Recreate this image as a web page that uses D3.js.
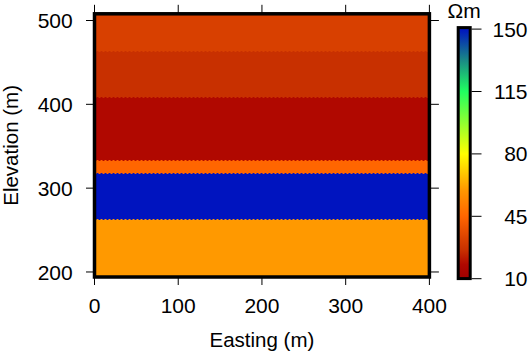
<!DOCTYPE html>
<html>
<head>
<meta charset="utf-8">
<script src="https://cdn.jsdelivr.net/npm/d3@7"></script>
<style>
  body { margin: 0; background: #fff; }
  svg { display: block; font-family: "Liberation Sans", Arial, sans-serif; }
</style>
</head>
<body>
<div id="chart"></div>
<script>
      // layered resistivity model (elevation in m, resistivity in ohm-m)
      var layerTop    = [508, 464, 409, 334, 318, 263];
      var layerBottom = [464, 409, 334, 318, 263, 194];
      var resistivity = [32, 26, 18, 45, 150, 60];

      var xTicks = [0, 100, 200, 300, 400];
      var yTicks = [200, 300, 400, 500];
      var cTicks = [10, 45, 80, 115, 150];

      // colour map stops
      var cStops  = [10, 18, 26, 32, 45, 60, 80, 115, 132, 150];
      var cColors = ["#a00000", "#b00800", "#c83000", "#d84000", "#ff6600",
                     "#ff9900", "#ffff00", "#20ff60", "#1a8c84", "#0014bf"];

      var W = 529, H = 354;

      var svg = d3.select("#chart").append("svg")
          .attr("width", W)
          .attr("height", H);

      ////// scales //////
      var xScale = d3.scaleLinear().domain([0, 400]).range([94.5, 429.4]);
      var yScale = d3.scaleLinear().domain([194, 508]).range([277, 13.8]);
      var colour = d3.scaleLinear().domain(cStops).range(cColors);
      var cScale = d3.scaleLinear().domain([10, 150]).range([278.7, 29.1]);

      // layers
      svg.append("g")
          .attr("shape-rendering", "crispEdges")
          .selectAll("rect")
          .data(resistivity)
          .enter()
          .append("rect")
          .attr("x", xScale(0))
          .attr("width", xScale(400) - xScale(0))
          .attr("y", function(d, i) { return Math.round(yScale(layerTop[i])); })
          .attr("height", function(d, i) {
              return Math.round(yScale(layerBottom[i])) - Math.round(yScale(layerTop[i])) + 1;
          })
          .attr("fill", function(d) { return colour(d); });

      // dashed seams between layers
      svg.append("g").selectAll("line")
          .data(resistivity.slice(0, -1))
          .enter()
          .append("line")
          .attr("x1", xScale(0))
          .attr("x2", xScale(400))
          .attr("y1", function(d, i) { return Math.round(yScale(layerBottom[i])) + 0.5; })
          .attr("y2", function(d, i) { return Math.round(yScale(layerBottom[i])) + 0.5; })
          .attr("stroke", function(d) { return colour(d); })
          .attr("stroke-width", 1)
          .attr("stroke-dasharray", "2,2");

      ////// axes: ticks on all four sides //////
      var tickLen = 8;
      var axes = svg.append("g").attr("stroke", "#000").attr("stroke-width", 1);
      axes.selectAll(".xb").data(xTicks).enter().append("line")
          .attr("x1", function(d) { return xScale(d); })
          .attr("x2", function(d) { return xScale(d); })
          .attr("y1", yScale(194)).attr("y2", yScale(194) + tickLen);
      axes.selectAll(".xt").data(xTicks).enter().append("line")
          .attr("x1", function(d) { return xScale(d); })
          .attr("x2", function(d) { return xScale(d); })
          .attr("y1", yScale(508)).attr("y2", yScale(508) - tickLen - 1);
      axes.selectAll(".yl").data(yTicks).enter().append("line")
          .attr("y1", function(d) { return yScale(d); })
          .attr("y2", function(d) { return yScale(d); })
          .attr("x1", xScale(0)).attr("x2", xScale(0) - tickLen - 0.5);
      axes.selectAll(".yr").data(yTicks).enter().append("line")
          .attr("y1", function(d) { return yScale(d); })
          .attr("y2", function(d) { return yScale(d); })
          .attr("x1", xScale(400)).attr("x2", xScale(400) + tickLen + 1.5);

      // frame
      svg.append("rect")
          .attr("x", xScale(0))
          .attr("y", yScale(508))
          .attr("width", xScale(400) - xScale(0))
          .attr("height", yScale(194) - yScale(508))
          .attr("fill", "none")
          .attr("stroke", "#000")
          .attr("stroke-width", 3.5);

      // tick labels
      svg.append("g").selectAll("text")
          .data(xTicks)
          .enter()
          .append("text")
          .attr("x", function(d) { return xScale(d); })
          .attr("y", 313.3)
          .attr("text-anchor", "middle")
          .attr("font-size", 21)
          .text(function(d) { return d; });

      svg.append("g").selectAll("text")
          .data(yTicks)
          .enter()
          .append("text")
          .attr("x", 72.7)
          .attr("y", function(d) { return yScale(d); })
          .attr("dy", "0.36em")
          .attr("text-anchor", "end")
          .attr("font-size", 21)
          .text(function(d) { return d; });

      // axis titles
      svg.append("text")
          .attr("x", (xScale(0) + xScale(400)) / 2)
          .attr("y", 347)
          .attr("text-anchor", "middle")
          .attr("font-size", 20.5)
          .text("Easting (m)");

      svg.append("text")
          .attr("transform", "translate(18.3," + (yScale(194) + yScale(508)) / 2 + ") rotate(-90)")
          .attr("text-anchor", "middle")
          .attr("font-size", 20.5)
          .text("Elevation (m)");

      ////// colour bar //////
      var defs = svg.append("defs");
      var grad = defs.append("linearGradient")
          .attr("id", "cbar")
          .attr("gradientUnits", "userSpaceOnUse")
          .attr("x1", 0).attr("x2", 0)
          .attr("y1", cScale(10)).attr("y2", cScale(150));
      grad.selectAll("stop")
          .data(cStops)
          .enter()
          .append("stop")
          .attr("offset", function(d) { return (d - 10) / 140; })
          .attr("stop-color", function(d) { return colour(d); });

      svg.append("rect")
          .attr("x", 458.2)
          .attr("y", 27.6)
          .attr("width", 12)
          .attr("height", 251)
          .attr("fill", "url(#cbar)")
          .attr("stroke", "#000")
          .attr("stroke-width", 3);

      svg.append("g").selectAll("line")
          .data(cTicks)
          .enter()
          .append("line")
          .attr("x1", 471.5)
          .attr("x2", 481.5)
          .attr("y1", function(d) { return cScale(d); })
          .attr("y2", function(d) { return cScale(d); })
          .attr("stroke", "#000")
          .attr("stroke-width", 1);

      svg.append("g").selectAll("text")
          .data(cTicks)
          .enter()
          .append("text")
          .attr("x", 527.5)
          .attr("y", function(d) { return cScale(d); })
          .attr("dy", "0.36em")
          .attr("text-anchor", "end")
          .attr("font-size", 21)
          .text(function(d) { return d; });

      svg.append("text")
          .attr("x", 464.2)
          .attr("y", 18)
          .attr("text-anchor", "middle")
          .attr("font-size", 21)
          .text("Ωm");
</script>
</body>
</html>
